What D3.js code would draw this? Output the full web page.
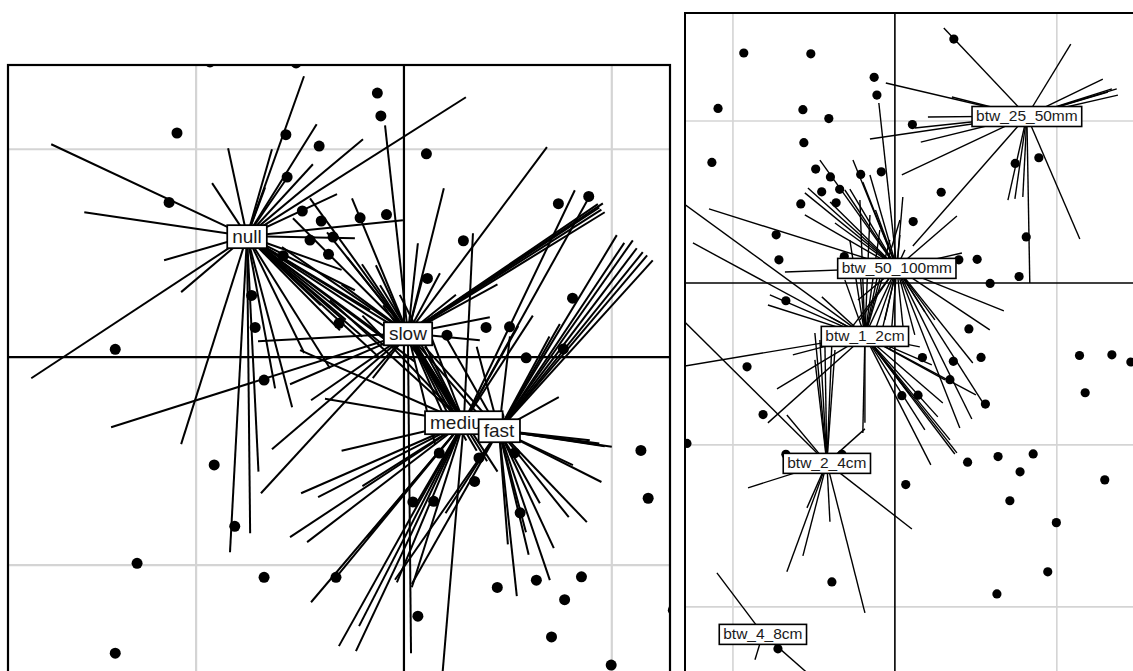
<!DOCTYPE html>
<html>
<head>
<meta charset="utf-8">
<script src="https://cdn.jsdelivr.net/npm/d3@7"></script>
<style>
  html, body { margin: 0; padding: 0; background: #fff; }
  svg { display: block; }
</style>
</head>
<body>
<svg id="chart" width="1133" height="671"></svg>
<script>
// Sample scores on the first two axes (shared by both panels)
const sampleX = [-0.933,-0.519,-1.092,-0.128,-0.111,-0.568,-0.408,0.108,-0.562,-1.130,
  -0.489,-0.398,-0.211,-0.084,-0.452,-0.341,-0.363,-0.581,0.743,0.889,
  0.286,0.113,0.811,-0.733,-0.716,0.395,0.508,-0.3125,0.207,0.767,
  0.588,-1.389,-0.673,-0.913,-0.814,-1.284,-0.673,-0.327,-1.389,1.140,
  1.175,0.170,0.532,0.361,0.340,0.043,0.143,0.559,0.449,0.637,
  0.854,0.773,0.067,0.710,0.997,0.364,0.457,1.340,1.457,1.296,
  -0.389,0.944,0.630,-0.722];
const sampleY = [1.42,1.415,1.078,1.27,1.16,1.07,1.015,0.978,0.866,0.744,
  0.703,0.655,0.670,0.686,0.563,0.578,0.495,0.488,0.738,0.773,
  0.560,0.379,0.284,0.297,0.143,0.143,0.146,0.163,0.106,0.040,
  -0.003,0.038,-0.110,-0.518,-0.813,-0.991,-1.058,-1.058,-1.423,-0.448,
  -0.678,-0.461,-0.460,-0.484,-0.597,-0.696,-0.693,-0.748,-1.107,-1.072,
  -1.056,-1.166,-1.245,-1.345,-1.480,1.506,-0.284,-0.444,-0.488,-1.216,
  -1.846,-1.784,-1.920,-2.259];

// Speed classes: labels, centroids and the rows joined to each centroid
const speedLabels = ["null", "slow", "medium", "fast"];
const speedCentroids = [[-0.755,0.582],[0.019,0.115],[0.288,-0.3125],[0.457,-0.351]];
const speedNull = [[-1.697,1.024],[-1.538,0.697],[-1.154,0.466],[-1.072,0.313],[-1.793,-0.101],
  [-0.923,0.837],[-0.846,1.005],[-0.481,1.351],[-0.635,1.0],[-0.668,0.817],[-0.438,0.928],
  [-0.197,1.048],[0.298,1.25],[-0.322,0.784],[-0.005,0.659],[-0.236,0.572],[-1.072,-0.418],
  [-0.837,-0.938],[-0.740,-0.846],[-0.538,-0.240],[-0.356,-0.053],[-0.308,0.130],[-0.163,0.226],
  [-0.236,0.322],[-0.043,0.058],[-0.12,0.0],[-0.20,0.10],[-0.05,0.15],[-0.40,0.25],[0.05,-0.02],
  [-0.10,0.06],[-0.02,0.10],[-0.28,0.18],[-0.48,0.02],[-0.62,-0.15],[-0.30,0.42],[-0.55,0.88],
  [-0.70,-0.55],[-0.42,1.12]];
const speedSlow = [[-1.409,-0.337],[-0.702,0.077],[-0.091,1.115],[0.688,1.010],[0.192,0.812],
  [0.413,0.192],[0.933,0.736],[0.957,0.740],[0.966,0.697],[0.94,0.72],[0.95,0.71],
  [-0.452,0.764],[-0.25,0.764],[-0.274,0.481],[-0.202,0.447],[-0.135,0.442],[0.067,0.548],
  [0.173,0.404],[0.091,0.385],[-0.635,-0.442],[-0.688,-0.654],[-0.447,-0.207],[-0.548,-0.130],
  [0.034,-1.423],[-0.534,0.668],[-0.587,0.529],[0.365,0.082],[0.30,-0.40],[0.35,-0.45],
  [0.25,-0.35],[0.40,-0.50],[0.45,-0.55],[0.20,-0.30],[0.32,-0.36],[0.15,-0.42],[0.38,-0.30],
  [-0.37,0.60],[-0.30,0.35],[0.25,0.30],[0.45,0.35],[-0.15,-0.10]];
const speedMedium = [[0.332,0.596],[0.822,0.803],[0.904,0.793],[-0.356,0.274],[-0.5,0.034],
  [-0.115,0.346],[-0.20,0.20],[-0.548,-0.865],[-0.466,-0.889],[-0.447,-1.178],[-0.313,-1.389],
  [-0.231,-1.413],[-0.216,-1.293],[-0.178,-0.865],[-0.495,-0.654],[-0.413,-0.673],[0.183,-1.55],
  [-0.034,-1.082],[0.038,-1.106],[-0.327,-1.058],[-0.05,0.20],[0.0,0.15],[-0.10,0.25],
  [0.05,0.12],[-0.02,0.30],[0.10,0.18],[-0.30,-0.45],[-0.20,-0.62],[-0.38,-0.20],[0.55,0.15],
  [0.62,0.20],[0.05,-0.72]];
const speedFast = [[1.024,0.587],[1.101,0.562],[1.149,0.505],[1.197,0.466],[1.120,0.524],
  [1.06,0.55],[1.17,0.49],[0.966,-0.428],[0.894,-0.399],[0.94,-0.415],[1.0,-0.43],[0.745,-0.192],
  [0.813,-0.519],[0.880,-0.793],[0.793,-0.769],[0.721,-0.918],[0.702,-1.072],[0.543,-1.149],
  [0.654,-0.702],[0.587,-0.841],[-0.043,-1.07],[0.038,-1.09],[0.20,-0.75],[0.51,0.1],[0.35,0.05],
  [0.70,0.10],[0.75,0.16],[0.60,-0.95],[0.50,-0.90],[0.10,0.05],[0.20,0.10],[0.95,-0.60]];

// Size classes
const sizeLabels = ["btw_25_50mm", "btw_50_100mm", "btw_1_2cm", "btw_2_4cm", "btw_4_8cm"];
const sizeCentroids = [[0.815,1.031],[0.012,0.093],[-0.185,-0.327],[-0.420,-1.111],[-0.815,-2.167]];
const size25_50mm = [[0.302,1.574],[1.086,1.475],[1.284,1.259],[1.340,1.198],[1.370,1.198],
  [1.377,1.160],[1.315,1.179],[-0.056,1.235],[0.352,1.148],[0.204,1.025],[0.123,0.957],
  [-0.154,0.889],[0.160,0.870],[0.043,0.667],[0.111,0.228],[0.698,0.512],[0.790,0.531],
  [0.741,0.519],[0.833,0.0],[1.142,0.272]];
const size50_100mm = [[-0.463,0.759],[-0.259,0.759],[-0.099,1.111],[-0.556,0.556],[-0.537,0.586],
  [-0.556,0.420],[-0.370,0.370],[-0.278,0.580],[-0.198,0.623],[0.049,0.531],[0.383,0.414],
  [0.414,0.185],[-0.679,0.068],[-1.148,0.457],[0.673,-0.173],[0.586,-0.290],[0.481,-0.494],
  [0.556,-0.759],[0.475,-0.840],[0.401,-0.895],[-0.228,-0.105],[-0.062,-0.228],[0.185,-0.179],
  [-0.309,0.574],[-0.154,0.667],[0.031,0.296],[-0.278,-0.29],[-0.154,-0.383],[-0.093,-0.352],
  [0.062,-0.383],[0.123,-0.321],[-0.031,-0.414],[-0.216,-0.228],[0.247,-0.228],[-0.40,0.50],
  [-0.12,0.45]];
const size1_2cm = [[-1.40,-0.53],[-1.40,0.56],[-1.247,0.247],[-0.728,-0.654],[-0.784,-0.864],
  [-0.630,-0.444],[0.222,-1.123],[0.383,-1.049],[0.265,-0.827],[0.296,-0.741],[0.228,-0.506],
  [0.154,-0.395],[-0.185,-0.864],[0.5,-0.691],[-0.784,-0.136],[-0.401,-0.210],[-0.451,-0.086],
  [-0.772,-0.074],[-0.216,0.080],[-0.093,0.111],[-0.309,0.019],[-0.198,-0.926],[-0.093,0.327],
  [-0.154,0.420],[-0.031,0.265],[-0.278,0.265],[0.031,0.389],[-0.216,0.512],[0.062,0.204],
  [0.370,-1.056],[0.340,-0.969],[0.185,-0.907],[0.309,-0.599],[0.10,-0.70]];
const size2_4cm = [[-0.907,-1.265],[-0.543,-1.389],[-0.568,-1.685],[-0.667,-1.784],[-0.401,-1.475],
  [-0.185,-2.037],[0.105,-1.519],[-0.667,-0.815],[-0.185,-0.901],[-0.494,-0.309],[-0.389,-0.370],
  [-1.40,-0.14],[-0.463,-0.352],[-0.432,-0.383],[-0.370,-0.414],[-0.494,-0.475]];
const size4_8cm = [[-1.099,-1.790],[-0.864,-2.327],[-0.401,-2.531]];

const svg = d3.select("#chart");

function drawPanel(cfg) {
  const { id, xDomain, yDomain, xRange, yRange, classes, labels, centroids,
          lineWidth, dotRadius, fontSize, gridWidth, frameWidth, padX, padY } = cfg;
  const x = d3.scaleLinear().domain(xDomain).range(xRange);
  const y = d3.scaleLinear().domain(yDomain).range(yRange);

  const g = svg.append("g");
  const clipId = "clip-" + id;
  g.append("clipPath").attr("id", clipId)
    .append("rect")
    .attr("x", xRange[0]).attr("y", yRange[1])
    .attr("width", xRange[1] - xRange[0]).attr("height", yRange[0] - yRange[1]);

  const body = g.append("g").attr("clip-path", `url(#${clipId})`);

  // light grid at unit steps, zero lines in black
  const gx = d3.range(Math.ceil(xDomain[0]), Math.floor(xDomain[1]) + 1).filter(d => d !== 0);
  const gy = d3.range(Math.ceil(yDomain[0]), Math.floor(yDomain[1]) + 1).filter(d => d !== 0);
  body.selectAll(".gx").data(gx).join("line")
    .attr("x1", d => x(d)).attr("x2", d => x(d))
    .attr("y1", yRange[0]).attr("y2", yRange[1])
    .attr("stroke", "#d4d4d4").attr("stroke-width", gridWidth);
  body.selectAll(".gy").data(gy).join("line")
    .attr("y1", d => y(d)).attr("y2", d => y(d))
    .attr("x1", xRange[0]).attr("x2", xRange[1])
    .attr("stroke", "#d4d4d4").attr("stroke-width", gridWidth);
  body.append("line")
    .attr("x1", x(0)).attr("x2", x(0)).attr("y1", yRange[0]).attr("y2", yRange[1])
    .attr("stroke", "#000").attr("stroke-width", gridWidth);
  body.append("line")
    .attr("y1", y(0)).attr("y2", y(0)).attr("x1", xRange[0]).attr("x2", xRange[1])
    .attr("stroke", "#000").attr("stroke-width", gridWidth);

  // stars: each row joined to its class centroid
  const segs = [];
  classes.forEach((ends, k) => ends.forEach(e => segs.push({ c: centroids[k], e })));
  body.selectAll(".star").data(segs).join("line")
    .attr("x1", d => x(d.c[0])).attr("y1", d => y(d.c[1]))
    .attr("x2", d => x(d.e[0])).attr("y2", d => y(d.e[1]))
    .attr("stroke", "#000").attr("stroke-width", lineWidth)
    .attr("stroke-linecap", "butt");

  // sample points
  body.selectAll(".pt").data(sampleX.map((v, i) => [v, sampleY[i]])).join("circle")
    .attr("cx", d => x(d[0])).attr("cy", d => y(d[1]))
    .attr("r", dotRadius).attr("fill", "#000");

  // class labels in white boxes
  labels.forEach((lab, k) => {
    const lg = body.append("g");
    const t = lg.append("text")
      .attr("x", x(centroids[k][0])).attr("y", y(centroids[k][1]))
      .attr("text-anchor", "middle").attr("dominant-baseline", "central")
      .attr("font-family", "Liberation Sans, Arial, sans-serif")
      .attr("font-size", fontSize).attr("fill", "#1a1a1a")
      .text(lab);
    const bb = t.node().getBBox();
    lg.insert("rect", "text")
      .attr("x", bb.x - padX).attr("y", bb.y - padY)
      .attr("width", bb.width + 2 * padX).attr("height", bb.height + 2 * padY + 1)
      .attr("fill", "#fff").attr("stroke", "#000").attr("stroke-width", frameWidth * 0.8);
  });

  // frame
  g.append("rect")
    .attr("x", xRange[0]).attr("y", yRange[1])
    .attr("width", xRange[1] - xRange[0]).attr("height", yRange[0] - yRange[1])
    .attr("fill", "none").attr("stroke", "#000").attr("stroke-width", frameWidth);
}

drawPanel({
  id: "speed",
  xDomain: [-1.905, 1.28], yDomain: [-1.6, 1.405],
  xRange: [8, 670], yRange: [690, 65],
  classes: [speedNull, speedSlow, speedMedium, speedFast],
  labels: speedLabels, centroids: speedCentroids,
  lineWidth: 2, dotRadius: 5.5, fontSize: 19, gridWidth: 2.2, frameWidth: 2.2,
  padX: 5, padY: 0.5
});

drawPanel({
  id: "size",
  xDomain: [-1.296, 1.6], yDomain: [-2.6, 1.667],
  xRange: [685, 1154], yRange: [704, 13],
  classes: [size25_50mm, size50_100mm, size1_2cm, size2_4cm, size4_8cm],
  labels: sizeLabels, centroids: sizeCentroids,
  lineWidth: 1.4, dotRadius: 4.6, fontSize: 15.5, gridWidth: 1.6, frameWidth: 2,
  padX: 4, padY: 1
});
</script>
</body>
</html>
